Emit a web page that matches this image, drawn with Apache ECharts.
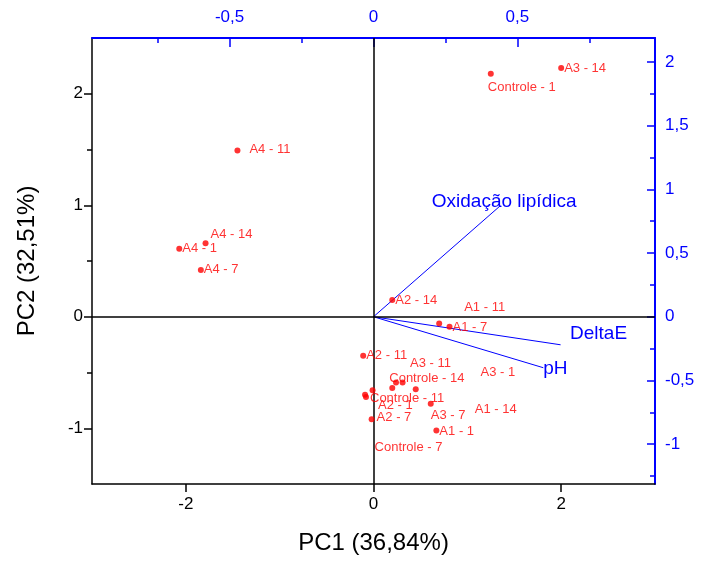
<!DOCTYPE html>
<html>
<head>
<meta charset="utf-8">
<title>PCA biplot</title>
<script src="https://cdn.jsdelivr.net/npm/echarts@6/dist/echarts.min.js"></script>
<style>
    html, body { margin: 0; padding: 0; background: #fff; }
    #pca-chart { width: 701px; height: 562px; }
</style>
</head>
<body>
<div id="pca-chart"></div>
<script>
// sample scores (PC1, PC2)
var sampleNames = ['Controle - 1', 'A3 - 14', 'A4 - 11', 'A4 - 14', 'A4 - 1', 'A4 - 7', 'A2 - 14',
    'A1 - 11', 'A1 - 7', 'A2 - 11', 'Controle - 7', 'A2 - 1', 'Controle - 11', 'Controle - 14',
    'A3 - 11', 'A3 - 1', 'A1 - 14', 'A3 - 7', 'A2 - 7', 'A1 - 1'];
var scorePC1 = [1.25, 2.00, -1.45, -1.79, -2.07, -1.84, 0.20,
    0.70, 0.81, -0.11, -0.01, -0.09, -0.08, 0.20,
    0.24, 0.31, 0.45, 0.61, -0.02, 0.67];
var scorePC2 = [2.18, 2.23, 1.49, 0.66, 0.61, 0.42, 0.15,
    -0.06, -0.09, -0.35, -0.66, -0.70, -0.72, -0.64,
    -0.59, -0.59, -0.65, -0.78, -0.92, -1.02];

// variable loadings (top / right axes)
var loadingNames = ['Oxidação lipídica', 'DeltaE', 'pH'];
var loadingPC1 = [0.44, 0.65, 0.59];
var loadingPC2 = [0.87, -0.22, -0.40];

// tick labels
var bottomTicks = [-2, 0, 2];
var leftTicks = [-1, 0, 1, 2];
var leftMinor = [-0.5, 0.5, 1.5];
var topTicks = [-0.5, 0, 0.5];
var topMinor = [-0.75, -0.25, 0.25, 0.75];
var rightTicks = [-1, -0.5, 0, 0.5, 1, 1.5, 2];
var rightMinor = [-1.25, -0.75, -0.25, 0.25, 0.75, 1.25, 1.75];

// label nudges (px), same order as sampleNames
var labelNudge = [[-6, 14], [0, 0], [9, -1], [2, -9], [0, 0], [0, 0], [0, 0],
    [22, -16], [0, 1], [0, 0], [-1, 57], [10, 11], [1, 1], [-6, -10],
    [11, -19], [75, -10], [56, 20], [-3, 12], [2, -2], [0, 1]];
var loadingNudge = [[4, -4], [38, -11], [12, 1]];

var FONT = 'Arial, "Liberation Sans", sans-serif';
var BLUE = '#0000ff';

function comma(v) {
    return String(v).replace('.', ',');
}

function noLine() {
    return { show: false, onZero: false };
}

var chart = echarts.init(document.getElementById('pca-chart'));

var points = [];
for (var i = 0; i < sampleNames.length; i++) {
    points.push({
        name: sampleNames[i],
        value: [scorePC1[i], scorePC2[i]],
        label: { offset: labelNudge[i] }
    });
}

var series = [{
    type: 'scatter',
    xAxisIndex: 0,
    yAxisIndex: 0,
    symbolSize: 6,
    itemStyle: { color: '#ff0000' },
    label: {
        show: true,
        position: 'right',
        distance: 0,
        formatter: '{b}',
        color: '#ff0000',
        fontSize: 13,
        fontFamily: FONT
    },
    data: points,
    z: 5,
    markLine: {
        silent: true,
        symbol: ['none', 'none'],
        label: { show: false },
        lineStyle: { color: '#000', width: 1.5, type: 'solid' },
        data: [{ xAxis: 0 }, { yAxis: 0 }]
    }
}];

// one line per loading vector, from the origin
for (var j = 0; j < loadingNames.length; j++) {
    series.push({
        type: 'line',
        xAxisIndex: 1,
        yAxisIndex: 2,
        showSymbol: true,
        symbol: 'circle',
        symbolSize: 0,
        lineStyle: { color: BLUE, width: 1 },
        itemStyle: { color: BLUE },
        z: 3,
        data: [
            { value: [0, 0] },
            {
                value: [loadingPC1[j], loadingPC2[j]],
                name: loadingNames[j],
                label: {
                    show: true,
                    position: 'inside',
                    offset: loadingNudge[j],
                    formatter: '{b}',
                    color: BLUE,
                    fontSize: 19,
                    fontFamily: FONT
                }
            }
        ]
    });
}

var option = {
    animation: false,
    backgroundColor: '#fff',
    grid: { left: 92, right: 46, top: 38, bottom: 78 },
    xAxis: [{
        type: 'value', position: 'bottom', min: -3, max: 3,
        axisLine: { onZero: false, lineStyle: { color: '#000', width: 1.5 } },
        axisTick: { customValues: bottomTicks, length: 8, lineStyle: { color: '#000', width: 1.5 } },
        axisLabel: { customValues: bottomTicks, formatter: comma, color: '#000', fontSize: 17, fontFamily: FONT, margin: 12 },
        splitLine: { show: false },
        name: 'PC1 (36,84%)', nameLocation: 'middle', nameGap: 47,
        nameTextStyle: { color: '#000', fontSize: 24, fontFamily: FONT }
    }, {
        type: 'value', position: 'top', min: -0.978, max: 0.978,
        axisLine: { onZero: false, lineStyle: { color: BLUE, width: 2 } },
        axisTick: { customValues: topTicks, inside: true, length: 9, lineStyle: { color: BLUE, width: 1.5 } },
        axisLabel: { customValues: topTicks, formatter: comma, color: BLUE, fontSize: 17, fontFamily: FONT, margin: 12 },
        splitLine: { show: false }
    }, {
        type: 'value', position: 'top', min: -0.978, max: 0.978,
        axisLine: noLine(),
        axisTick: { customValues: topMinor, inside: true, length: 5, lineStyle: { color: BLUE, width: 1.5 } },
        axisLabel: { show: false },
        splitLine: { show: false }
    }],
    yAxis: [{
        type: 'value', position: 'left', min: -1.5, max: 2.5,
        axisLine: { onZero: false, lineStyle: { color: '#000', width: 1.5 } },
        axisTick: { customValues: leftTicks, length: 8, lineStyle: { color: '#000', width: 1.5 } },
        axisLabel: { customValues: leftTicks, formatter: comma, color: '#000', fontSize: 17, fontFamily: FONT, margin: 9 },
        splitLine: { show: false },
        name: 'PC2 (32,51%)', nameLocation: 'middle', nameGap: 53,
        nameTextStyle: { color: '#000', fontSize: 24, fontFamily: FONT }
    }, {
        type: 'value', position: 'left', min: -1.5, max: 2.5,
        axisLine: noLine(),
        axisTick: { customValues: leftMinor, length: 5, lineStyle: { color: '#000', width: 1.5 } },
        axisLabel: { show: false },
        splitLine: { show: false }
    }, {
        type: 'value', position: 'right', min: -1.3125, max: 2.1875,
        axisLine: { onZero: false, lineStyle: { color: BLUE, width: 2 } },
        axisTick: { customValues: rightTicks, inside: true, length: 8, lineStyle: { color: BLUE, width: 1.5 } },
        axisLabel: { customValues: rightTicks, formatter: comma, color: BLUE, fontSize: 17, fontFamily: FONT, margin: 10 },
        splitLine: { show: false }
    }, {
        type: 'value', position: 'right', min: -1.3125, max: 2.1875,
        axisLine: noLine(),
        axisTick: { customValues: rightMinor, inside: true, length: 5, lineStyle: { color: BLUE, width: 1.5 } },
        axisLabel: { show: false },
        splitLine: { show: false }
    }],
    series: series
};

chart.setOption(option);
</script>
</body>
</html>
